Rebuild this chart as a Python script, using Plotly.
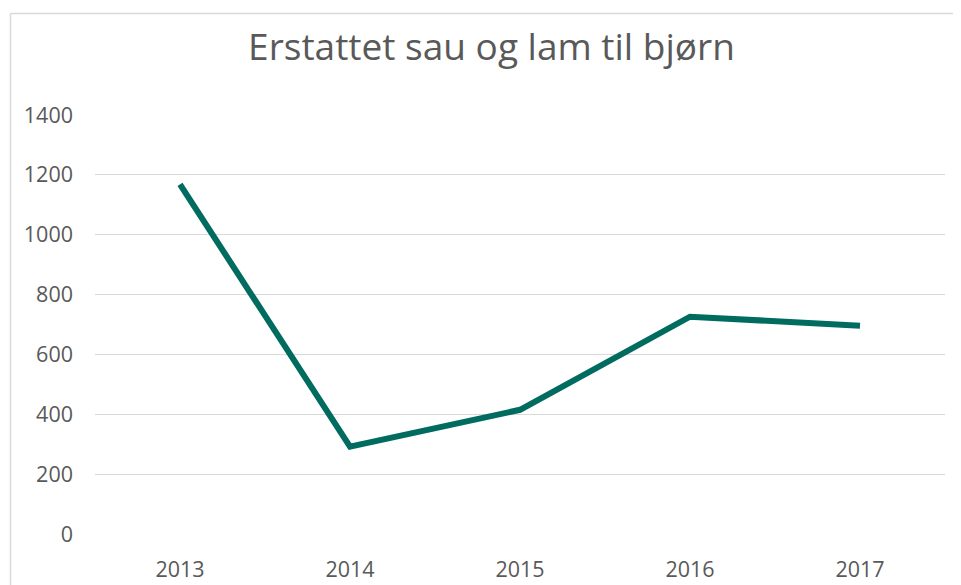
import plotly.graph_objects as go

years = ["2013", "2014", "2015", "2016", "2017"]
values = [1168, 292, 415, 726, 696]
y_ticks = [0, 200, 400, 600, 800, 1000, 1200, 1400]

# page body has an 8px margin, so figure coordinates = screen - 8
OFF = 8
W, H = 961 - OFF, 585 - OFF
L = 95 - OFF
T = 115 - OFF
R = W - (945 - OFF)
B = H - (534.5 - OFF)
pw = W - L - R
ph = H - T - B

fig = go.Figure()
fig.add_trace(go.Scatter(
    x=years, y=values, mode="lines",
    line=dict(color="#006B5F", width=6),
    hoverinfo="x+y",
))

def px_to_paper_x(px):
    return (px - OFF - L) / pw

def py_to_paper_y(py):
    return (H - B - (py - OFF)) / ph

border = dict(color="#D9D9D9", width=1.5)
bx0, by0 = px_to_paper_x(10.5), py_to_paper_y(13.5)
fig.update_layout(
    width=W, height=H,
    margin=dict(l=L, r=R, t=T, b=B),
    paper_bgcolor="white", plot_bgcolor="white",
    showlegend=False,
    title=dict(
        text="Erstattet sau og lam til bjørn",
        font=dict(family="Open Sans", size=37, color="#595959"),
        x=(491.5 - OFF) / W, xanchor="center", xref="container",
        y=1 - (47 - OFF) / H, yanchor="middle", yref="container",
    ),
    font=dict(family="Open Sans", size=21.5, color="#595959"),
    xaxis=dict(
        type="category", range=[-0.5, 4.5], automargin=False,
        showgrid=False, zeroline=False, showline=False,
        ticks="", ticklabelstandoff=20,
        tickfont=dict(size=21.5, color="#595959"),
    ),
    yaxis=dict(
        range=[0, 1400], tickvals=y_ticks, automargin=False,
        showgrid=True, gridcolor="#D9D9D9", gridwidth=1.3,
        zeroline=False, showline=False, ticks="",
        ticklabelstandoff=21,
        tickfont=dict(size=21.5, color="#595959"),
    ),
    shapes=[
        dict(type="line", xref="paper", yref="paper",
             x0=bx0, x1=px_to_paper_x(990), y0=by0, y1=by0, line=border),
        dict(type="line", xref="paper", yref="paper",
             x0=bx0, x1=bx0, y0=by0, y1=py_to_paper_y(620), line=border),
    ],
)

fig.write_html("out.html")
